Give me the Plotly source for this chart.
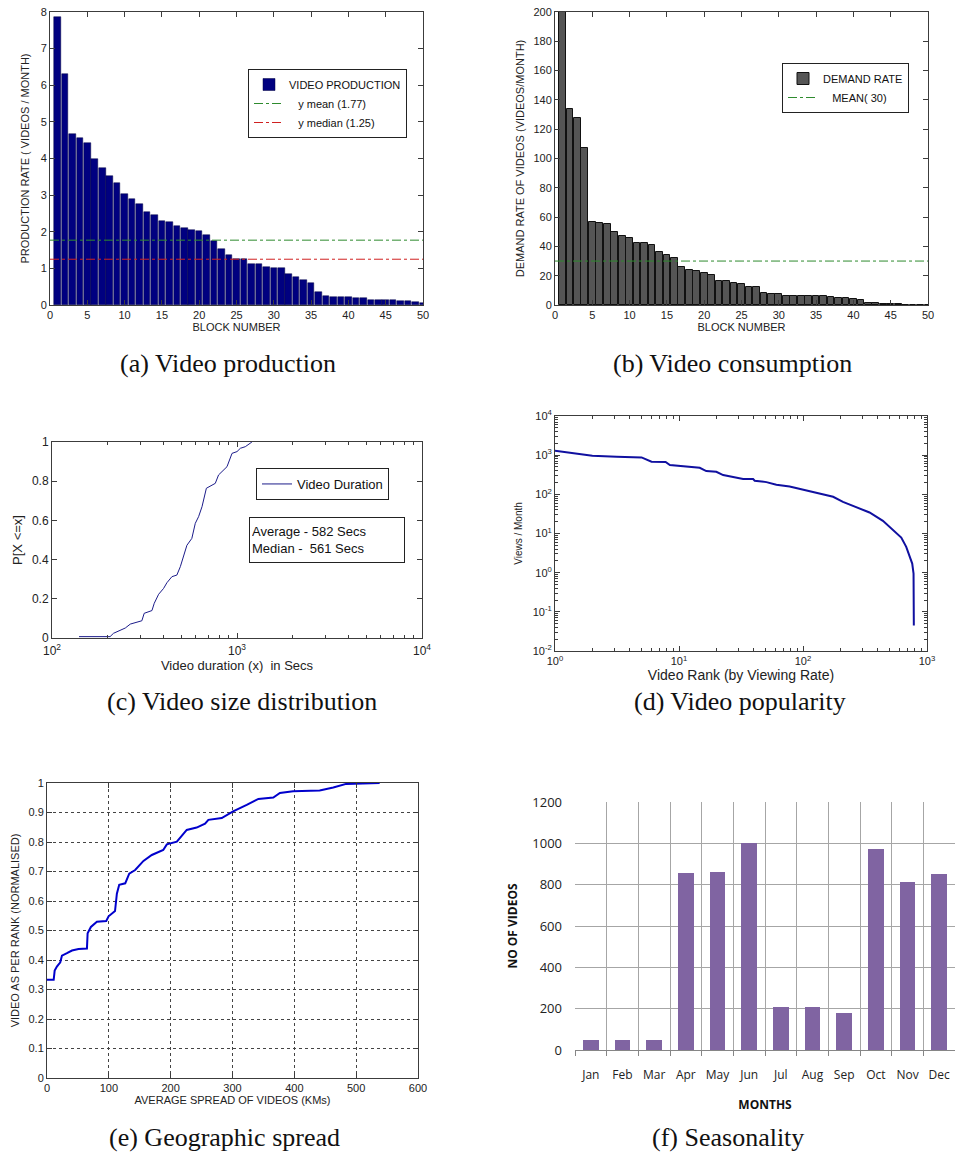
import plotly.graph_objects as go

W, H = 955, 1153

# ---------------- data ----------------
# (a) video production
blocks = list(range(1, 51))
production = [7.85, 6.32, 4.66, 4.57, 4.42, 4.00, 3.74, 3.51, 3.32, 3.02,
              2.90, 2.76, 2.55, 2.45, 2.30, 2.27, 2.15, 2.10, 2.06, 2.01,
              1.91, 1.75, 1.53, 1.37, 1.26, 1.26, 1.12, 1.12, 1.05, 1.00,
              1.00, 0.86, 0.77, 0.67, 0.60, 0.35, 0.25, 0.23, 0.23, 0.23,
              0.20, 0.20, 0.15, 0.15, 0.15, 0.15, 0.11, 0.11, 0.09, 0.06]
prod_mean = 1.77
prod_median = 1.25

# (b) video consumption
demand = [215, 134, 127.6, 107, 56.8, 56, 55.4, 49.7, 46.8, 45.6,
          42.2, 42.2, 40.9, 36.1, 34.3, 32.2, 26.1, 24.1, 23.2, 22.0,
          20.4, 16.1, 16.1, 15.0, 14.5, 12.3, 12.3, 8.4, 7.5, 7.5,
          6.4, 6.4, 6.4, 6.4, 5.9, 5.9, 5.2, 4.5, 4.5, 4.1,
          3.6, 1.4, 1.4, 0.9, 0.7, 0.7, 0, 0, 0, 0]
demand_mean = 30

# (c) video duration CDF
duration_s = [140, 206, 215, 229, 249, 265, 288, 306, 315, 347, 357, 377, 401,
              418, 445, 473, 494, 514, 536, 570, 595, 620, 647, 683, 718, 763,
              795, 846, 883, 940, 1000, 1043, 1109, 1204]
duration_cdf = [0.007, 0.007, 0.024, 0.037, 0.051, 0.071, 0.080, 0.088, 0.126,
                0.140, 0.177, 0.223, 0.253, 0.282, 0.313, 0.321, 0.364, 0.415,
                0.473, 0.508, 0.585, 0.619, 0.670, 0.764, 0.776, 0.789, 0.832,
                0.854, 0.874, 0.942, 0.951, 0.968, 0.976, 1.0]

# (d) video popularity
rank = [1, 1.91, 2.0, 3.14, 4.99, 6.0, 7.8, 8.44, 10, 12.2, 14.7, 16.6, 20,
        22.7, 29, 32.9, 39.6, 40.8, 50.7, 61, 78, 100, 120, 145, 175, 210,
        269, 344, 441, 531, 620, 680, 732, 760, 779, 783, 783]
views = [1298, 1007, 968, 912, 877, 679, 667, 558, 537, 506, 477, 392, 377,
         310, 270, 245, 245, 222, 205, 175, 159, 133, 118, 101, 86.5, 64.4,
         48, 34.4, 21, 12.2, 7.9, 4.55, 2.52, 1.71, 0.946, 0.197, 0.045]

# (e) geographic spread
spread_km = [0, 10.8, 12.4, 16, 21.5, 24.2, 32.3, 40.4, 51, 64.6, 65.7, 71,
             80.7, 95.8, 99.6, 110, 113, 116.8, 126.5, 133, 142.6, 156, 169.5,
             188, 193.8, 210, 226, 242, 255.6, 261, 282.6, 301, 323, 341.8,
             366, 376.7, 398, 441, 463, 484, 538]
spread_rank = [0.333, 0.333, 0.364, 0.378, 0.392, 0.415, 0.423, 0.432, 0.437,
               0.439, 0.491, 0.512, 0.530, 0.532, 0.548, 0.566, 0.625, 0.655,
               0.660, 0.693, 0.705, 0.736, 0.756, 0.773, 0.792, 0.801, 0.841,
               0.849, 0.862, 0.875, 0.881, 0.904, 0.926, 0.946, 0.951, 0.966,
               0.972, 0.975, 0.985, 0.997, 1.0]

# (f) seasonality
months = ['Jan', 'Feb', 'Mar', 'Apr', 'May', 'Jun',
          'Jul', 'Aug', 'Sep', 'Oct', 'Nov', 'Dec']
videos = [48, 48, 48, 857, 862, 1000, 206, 206, 177, 974, 813, 850]

captions = ['(a) Video production', '(b) Video consumption',
            '(c) Video size distribution', '(d) Video popularity',
            '(e) Geographic spread', '(f) Seasonality']

# ---------------- helpers ----------------
SANS = "Liberation Sans, Arial, sans-serif"
SERIF = "Liberation Serif, Times New Roman, serif"
EXCEL = "Open Sans, sans-serif"
AX = '#3c3c3c'


def dx(l, r):
    return [l / W, r / W]


def dy(t, b):
    return [1 - b / H, 1 - t / H]


def mat_axis(domain, anchor, title, tfs=11, tickfs=11, standoff=4, **kw):
    d = dict(domain=domain, anchor=anchor, showline=True, linecolor=AX,
             linewidth=1, mirror='ticks', ticks='inside', ticklen=5,
             tickcolor=AX, showgrid=False, zeroline=False, automargin=False,
             tickfont=dict(family=SANS, size=tickfs, color='#222'),
             title=dict(text=title, font=dict(family=SANS, size=tfs, color='#222'),
                        standoff=standoff))
    d.update(kw)
    return d


def sup_labels(exps):
    return [f'10<sup>{e}</sup>' for e in exps]


fig = go.Figure()

# (a)
fig.add_trace(go.Bar(x=blocks, y=production, width=0.88, name='VIDEO PRODUCTION',
                     marker=dict(color='#000080', line=dict(color='#000040', width=0.5)),
                     xaxis='x', yaxis='y', legend='legend'))
fig.add_trace(go.Scatter(x=[0, 50], y=[prod_mean, prod_mean], mode='lines',
                         name='   y mean (1.77)',
                         line=dict(color='#2e8b2e', dash='dashdot', width=1),
                         xaxis='x', yaxis='y', legend='legend'))
fig.add_trace(go.Scatter(x=[0, 50], y=[prod_median, prod_median], mode='lines',
                         name='   y median (1.25)',
                         line=dict(color='#d02020', dash='dashdot', width=1),
                         xaxis='x', yaxis='y', legend='legend'))

# (b)
fig.add_trace(go.Bar(x=blocks, y=demand, width=0.9, name='DEMAND RATE',
                     marker=dict(color='#555555', line=dict(color='#111111', width=1)),
                     xaxis='x2', yaxis='y2', legend='legend2'))
fig.add_trace(go.Scatter(x=[0, 50], y=[demand_mean, demand_mean], mode='lines',
                         name='   MEAN( 30)',
                         line=dict(color='#2e8b2e', dash='dashdot', width=1),
                         xaxis='x2', yaxis='y2', legend='legend2'))

# (c)
fig.add_trace(go.Scatter(x=duration_s, y=duration_cdf, mode='lines',
                         name='Video Duration',
                         line=dict(color='#1c1c8a', width=1),
                         xaxis='x3', yaxis='y3', legend='legend3'))

# (d)
fig.add_trace(go.Scatter(x=rank, y=views, mode='lines', showlegend=False,
                         line=dict(color='#1010a0', width=2),
                         xaxis='x4', yaxis='y4'))

# (e)
fig.add_trace(go.Scatter(x=spread_km, y=spread_rank, mode='lines', showlegend=False,
                         line=dict(color='#0000cc', width=2),
                         xaxis='x5', yaxis='y5'))

# (f)
fig.add_trace(go.Bar(x=months, y=videos, width=0.5, showlegend=False,
                     marker=dict(color='#8064a2', line=dict(width=0)),
                     xaxis='x6', yaxis='y6'))

minor_c = [m * 10 ** k for k in (2, 3) for m in range(2, 10)]
minor_dx = [m * 10 ** k for k in (0, 1, 2) for m in range(2, 10)]
minor_dy = [m * 10.0 ** k for k in range(-2, 4) for m in range(2, 10)]

legend_common = dict(xanchor='left', yanchor='top', bordercolor='#222',
                     borderwidth=1, bgcolor='white', tracegroupgap=0)

fig.update_layout(
    width=W, height=H, margin=dict(l=0, r=0, t=0, b=0, autoexpand=False),
    paper_bgcolor='white', plot_bgcolor='white', bargap=0,
    # (a)
    xaxis=mat_axis(dx(50, 423), 'y', 'BLOCK NUMBER', range=[0, 50], dtick=5, tick0=0, standoff=3),
    yaxis=mat_axis(dy(12, 305), 'x', 'PRODUCTION RATE ( VIDEOS / MONTH)', range=[0, 8], dtick=1, standoff=8),
    # (b)
    xaxis2=mat_axis(dx(555, 928), 'y2', 'BLOCK NUMBER', range=[0, 50], dtick=5, tick0=0, standoff=3),
    yaxis2=mat_axis(dy(12, 305), 'x2', 'DEMAND RATE OF VIDEOS (VIDEOS/MONTH)', range=[0, 200], dtick=20, standoff=6),
    # (c)
    xaxis3=mat_axis(dx(52, 422), 'y3', 'Video duration (x)  in Secs', tfs=13, tickfs=12,
                    type='log', range=[2, 4], tickmode='array', tickvals=[100, 1000, 10000],
                    ticktext=sup_labels([2, 3, 4]), standoff=2, ticklabelstandoff=2,
                    minor=dict(tickmode='array', tickvals=minor_c, ticks='inside', ticklen=3, tickcolor=AX, showgrid=False)),
    yaxis3=mat_axis(dy(442, 638), 'x3', 'P[X <=x]', tfs=13, tickfs=12, range=[0, 1], dtick=0.2, standoff=6),
    # (d)
    xaxis4=mat_axis(dx(555, 927), 'y4', 'Video Rank (by Viewing Rate)', tfs=14, tickfs=11,
                    type='log', range=[0, 3], tickmode='array', tickvals=[1, 10, 100, 1000],
                    ticktext=sup_labels([0, 1, 2, 3]), standoff=2,
                    minor=dict(tickmode='array', tickvals=minor_dx, ticks='inside', ticklen=3, tickcolor=AX, showgrid=False)),
    yaxis4=mat_axis(dy(416, 651), 'x4', 'Views / Month', tfs=10, tickfs=11,
                    type='log', range=[-2, 4], tickmode='array',
                    tickvals=[0.01, 0.1, 1, 10, 100, 1000, 10000],
                    ticktext=sup_labels(['-2', '-1', 0, 1, 2, 3, 4]), standoff=8,
                    minor=dict(tickmode='array', tickvals=minor_dy, ticks='inside', ticklen=3, tickcolor=AX, showgrid=False)),
    # (e)
    xaxis5=mat_axis(dx(47, 418), 'y5', 'AVERAGE SPREAD OF VIDEOS (KMs)', range=[0, 600], dtick=100, tick0=0,
                    showgrid=True, gridcolor='#444', griddash='dot', gridwidth=1, standoff=2),
    yaxis5=mat_axis(dy(783, 1078), 'x5', 'VIDEO AS PER RANK (NORMALISED)', range=[0, 1], dtick=0.1, tick0=0,
                    showgrid=True, gridcolor='#444', griddash='dot', gridwidth=1, standoff=6),
    # (f)
    xaxis6=dict(domain=dx(575, 955), anchor='y6', type='category', range=[-0.5, 11.5],
                tickson='boundaries', ticks='outside', ticklen=5, tickcolor='#868686',
                showline=True, linecolor='#868686', linewidth=1, automargin=False,
                showgrid=True, gridcolor='#a6a6a6', gridwidth=1, zeroline=False, tickangle=0,
                tickfont=dict(family=EXCEL, size=12, color='#222'), ticklabelstandoff=14,
                title=dict(text='<b>MONTHS</b>', font=dict(family=EXCEL, size=12, color='#111'), standoff=18)),
    yaxis6=dict(domain=dy(802, 1050), anchor='x6', range=[0, 1200], dtick=200, tick0=0,
                showline=False, ticks='', showgrid=True, gridcolor='#a6a6a6', gridwidth=1,
                zeroline=False, automargin=False, tickfont=dict(family=EXCEL, size=13, color='#222'),
                ticklabelstandoff=12,
                title=dict(text='<b>NO OF VIDEOS</b>', font=dict(family=EXCEL, size=12, color='#111'), standoff=12)),
    legend=dict(x=248 / W, y=1 - 69 / H, font=dict(family=SANS, size=11, color='#111'), **legend_common),
    legend2=dict(x=782 / W, y=1 - 63 / H, font=dict(family=SANS, size=11, color='#111'), **legend_common),
    legend3=dict(x=256 / W, y=1 - 468 / H, font=dict(family=SANS, size=13, color='#111'), **legend_common),
)

# (c) text box
fig.add_annotation(xref='paper', yref='paper', x=249 / W, y=1 - 517 / H,
                   xanchor='left', yanchor='top', align='left',
                   text='Average - 582 Secs<br>Median -  561 Secs',
                   font=dict(family=SANS, size=13, color='#111'),
                   bordercolor='#222', borderwidth=1, bgcolor='white',
                   width=150, height=40, borderpad=2, showarrow=False)

# captions
cap_pos = [(228, 364), (732, 364), (242, 702), (740, 702), (224, 1137), (728, 1137)]
for txt, (cx, cy) in zip(captions, cap_pos):
    fig.add_annotation(xref='paper', yref='paper', x=cx / W, y=1 - cy / H,
                       xanchor='center', yanchor='middle', text=txt, showarrow=False,
                       font=dict(family=SERIF, size=26, color='#111'))

fig.write_html('out.html', config={'displayModeBar': False},
               post_script="document.body.style.margin='0';document.body.style.overflow='hidden';")
